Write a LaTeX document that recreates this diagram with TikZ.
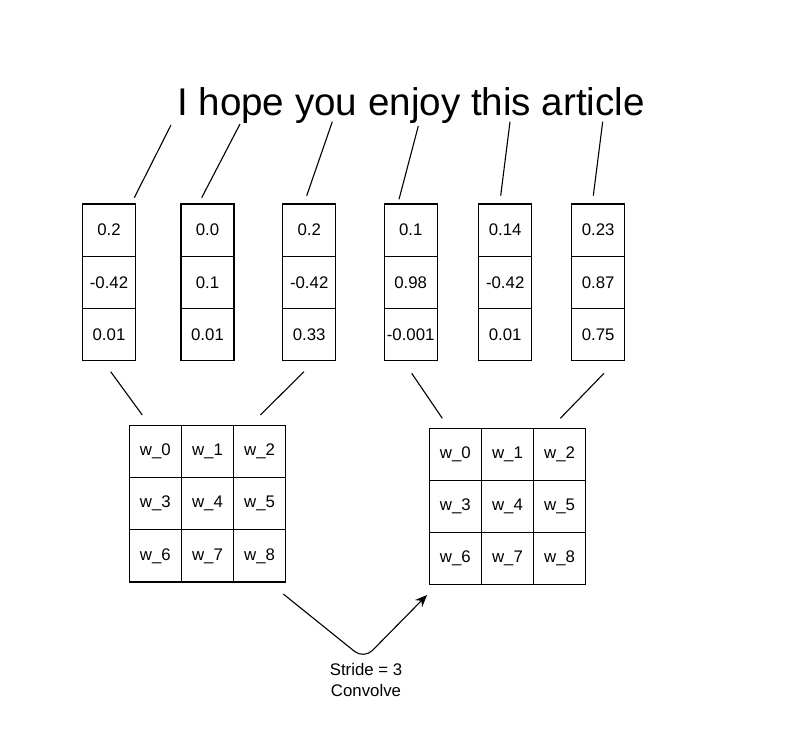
\documentclass[tikz,border=0pt]{standalone}
\usepackage{fontspec}
\setmainfont{Liberation Sans}
\usetikzlibrary{arrows.meta}
\begin{document}
\begin{tikzpicture}[x=1pt,y=-1pt,
  cellbox/.style={draw, line width=1.1pt, minimum width=53pt, minimum height=52.2pt, inner sep=0pt, font=\fontsize{16.8}{20}\selectfont},
  wcell/.style={draw, line width=1.1pt, minimum width=52.1pt, minimum height=52.2pt, inner sep=0pt, font=\fontsize{16.8}{20}\selectfont},
  link/.style={line width=1.1pt}]
\useasboundingbox (0,0) rectangle (786,737);
% title
\node[anchor=base, inner sep=0pt, font=\fontsize{38.6}{44}\selectfont] (title) at (411,115) {I hope you enjoy this article};
% vector columns
\foreach \i/\x/\a/\b/\c in {1/109/0.2/-0.42/0.01, 2/207.5/0.0/0.1/0.01, 3/309.2/0.2/-0.42/0.33, 4/410.7/0.1/0.98/-0.001, 5/505.2/0.14/-0.42/0.01, 6/598.2/0.23/0.87/0.75}{
  \node[cellbox] (v\i a) at (\x,230.1) {\a};
  \node[cellbox] (v\i b) at (\x,282.3) {\b};
  \node[cellbox] (v\i c) at (\x,334.5) {\c};
}
% kernels
\foreach \g/\x/\y in {L/155.4/451.5, R/455.4/454.3}{
  \foreach \r in {0,1,2}{
    \foreach \k in {0,1,2}{
      \pgfmathtruncatemacro{\n}{3*\r+\k}
      \node[wcell] (\g\n) at ({\x+52.1*\k},{\y+52.2*\r}) {w\_\n};
    }
  }
}
% word links
\coordinate (t1) at (171,125);   \coordinate (b1) at (134.3,197.7);
\coordinate (t2) at (240,124);   \coordinate (b2) at (201.7,197.7);
\coordinate (t3) at (332.3,121.7); \coordinate (b3) at (306.7,195.7);
\coordinate (t4) at (418.3,126); \coordinate (b4) at (399,199.3);
\coordinate (t5) at (510,121.7); \coordinate (b5) at (500.7,195.7);
\coordinate (t6) at (602.7,121.7); \coordinate (b6) at (593.3,195.7);
\foreach \i in {1,...,6}{\draw[link] (t\i) -- (b\i);}
% column to kernel links
\coordinate (p1) at (110.7,371.7); \coordinate (q1) at (142.3,415);
\coordinate (p2) at (304,371.7);   \coordinate (q2) at (260.3,415);
\coordinate (p3) at (411.7,373.3); \coordinate (q3) at (442.3,418.3);
\coordinate (p4) at (604,373.3);   \coordinate (q4) at (560.3,418.3);
\foreach \i in {1,...,4}{\draw[link] (p\i) -- (q\i);}
% stride arrow
\coordinate (as) at (283.3,594);
\coordinate (av) at (364,659);
\coordinate (ae) at (427,595);
\draw[link, rounded corners=12pt, -{Stealth[length=12pt,width=10pt]}] (as) -- (av) -- (ae);
\node[align=center, inner sep=0pt, font=\fontsize{16.8}{21}\selectfont] (lab) at (366,680) {Stride = 3\\Convolve};
\end{tikzpicture}
\end{document}
